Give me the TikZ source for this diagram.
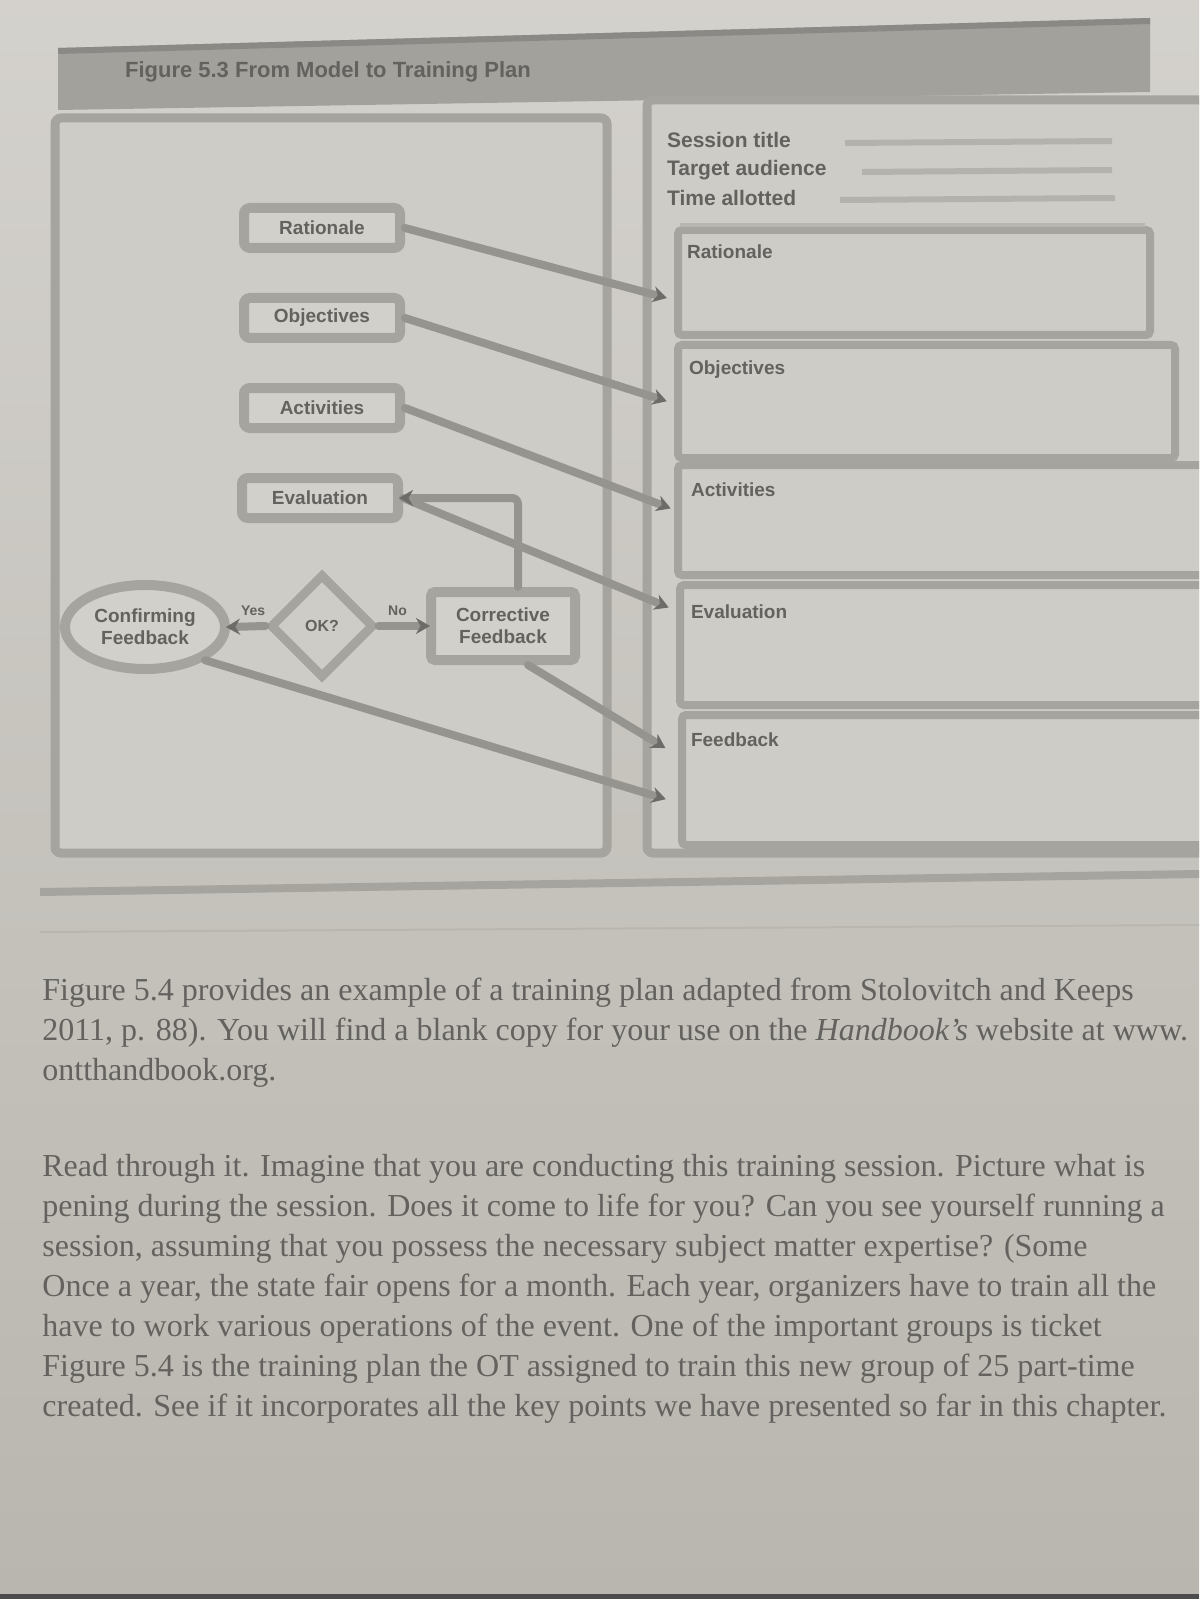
\documentclass[tikz,border=0pt]{standalone}
\usepackage{fontspec}
\setmainfont{Liberation Serif}
\setsansfont{Liberation Sans}
\usetikzlibrary{shapes.geometric,arrows.meta}
\definecolor{paper}{HTML}{C9C6C0}
\definecolor{paperdark}{HTML}{B9B6AF}
\definecolor{band}{HTML}{A3A19C}
\definecolor{frame}{HTML}{A6A49F}
\definecolor{ink}{HTML}{64625E}
\definecolor{tipcol}{HTML}{6E6C68}
\definecolor{inner}{HTML}{D2D0CB}
\tikzset{
  conn/.style={draw=frame!90!black, line width=4pt, line cap=round},
  tipped/.style={-{Stealth[length=7pt,width=8pt,color=tipcol]}, shorten >=-2pt},
  lbox/.style={draw=frame, line width=5pt, fill=inner, rounded corners=3pt,
     minimum width=78pt, minimum height=20pt, font=\sffamily\bfseries\fontsize{9.5}{11}\selectfont, text=ink},
  rbox/.style={draw=frame, line width=4pt, rounded corners=2pt},
  rlabel/.style={anchor=west, font=\sffamily\bfseries\fontsize{9.5}{11}\selectfont, text=ink},
  hlabel/.style={anchor=west, font=\sffamily\bfseries\fontsize{10.5}{12}\selectfont, text=ink},
  ylabel/.style={font=\sffamily\bfseries\fontsize{7}{8}\selectfont, text=ink},
  body/.style={anchor=base west, font=\fontsize{16}{18}\selectfont, text=ink, inner sep=0pt},
}
\begin{document}
\begin{tikzpicture}[x=0.5pt,y=-0.5pt]
\useasboundingbox (0,0) rectangle (1199,1599);
\clip (0,0) rectangle (1199,1599);
\shade[top color=paper!80!white, bottom color=paperdark] (0,0) rectangle (1199,1599);
% header band
\fill[band] (58,48) -- (1150,18) -- (1150,92) -- (58,110) -- cycle;
\fill[band!85!black] (58,48) -- (1150,18) -- (1150,24) -- (58,54) -- cycle;
\node[anchor=west, font=\sffamily\bfseries\fontsize{11}{13}\selectfont, text=ink] (title) at (118,72) {Figure 5.3 From Model to Training Plan};
% left panel
\draw[frame, line width=4.5pt, rounded corners=3pt, fill=inner!60!paper] (55,118) rectangle (607,853);
% right panel
\draw[frame, line width=4.5pt, rounded corners=3pt, fill=inner!60!paper] (647,100) rectangle (1230,853);
% header lines in right panel
\node[hlabel] (st) at (660,140) {Session title};
\node[hlabel] (ta) at (660,170) {Target audience};
\node[hlabel] (tl) at (660,198) {Time allotted};
\coordinate (st1) at (845,143); \coordinate (st2) at (1112,141);
\coordinate (ta1) at (862,172); \coordinate (ta2) at (1112,170);
\coordinate (tl1) at (840,200); \coordinate (tl2) at (1115,198);
\draw[frame!85!white, line width=3pt] (st1) -- (st2);
\draw[frame!85!white, line width=3pt] (ta1) -- (ta2);
\draw[frame!85!white, line width=3pt] (tl1) -- (tl2);
% right boxes
\draw[rbox] (678,230) rectangle (1150,335);
\draw[frame!80!white, line width=2pt] (680,225) -- (1145,225);
\draw[rbox] (678,345) rectangle (1175,458);
\draw[rbox] (678,465) rectangle (1215,575);
\draw[rbox] (680,585) rectangle (1215,705);
\draw[rbox] (682,715) rectangle (1215,845);
\node[rlabel] (rRat) at (680,252) {Rationale};
\node[rlabel] (rObj) at (682,370) {Objectives};
\node[rlabel] (rAct) at (684,490) {Activities};
\node[rlabel] (rEva) at (684,612) {Evaluation};
\node[rlabel] (rFee) at (684,740) {Feedback};
\coordinate (tRat) at (663,297);
\coordinate (tObj) at (663,400);
\coordinate (tAct) at (667,507);
\coordinate (tEva) at (665,606);
\coordinate (tFee) at (662,746);
\coordinate (tFee2) at (662,798);
% left nodes
\node[lbox] (Rat) at (322,228) {Rationale};
\node[lbox] (Obj) at (322,318) {Objectives};
\node[lbox] (Act) at (322,408) {Activities};
\node[lbox] (Eva) at (320,498) {Evaluation};
\node[ellipse, draw=frame, line width=5pt, fill=inner, minimum width=80pt, minimum height=42pt, inner sep=0pt,
  align=center, font=\sffamily\bfseries\fontsize{9.5}{11}\selectfont, text=ink] (Conf) at (145,627) {Confirming\\Feedback};
\node[diamond, draw=frame, line width=4.5pt, fill=inner!60!paper, minimum width=52pt, minimum height=52pt, inner sep=0pt,
  font=\sffamily\bfseries\fontsize{8}{9}\selectfont, text=ink] (OK) at (322,626) {OK?};
\node[lbox, minimum width=72pt, minimum height=34pt, align=center, rounded corners=2pt] (Corr) at (503,626) {Corrective\\Feedback};
% connectors
\draw[conn, tipped] (Rat.east) -- (tRat);
\draw[conn, tipped] (Obj.east) -- (tObj);
\draw[conn, tipped] (Act.east) -- (tAct);
\draw[conn, tipped] (Eva.east) -- (tEva);
\draw[conn, tipped] (Corr.south) ++(25,0) -- (tFee);
\draw[conn, tipped] (Conf.south east) -- (tFee2);
\draw[conn, tipped, rounded corners=3pt] (Corr.north) ++(15,0) |- (Eva.east);
\draw[conn, tipped] (OK.east) -- node[above, ylabel, pos=0.4] {No} (Corr.west);
\draw[conn, tipped] (OK.west) -- node[above, ylabel, pos=0.35] {Yes} (Conf.east);
% divider
\fill[frame] (40,888) -- (1199,870) -- (1199,878) -- (40,896) -- cycle;
\draw[paperdark!95!black, line width=1pt, opacity=0.5] (40,932) -- (1199,925);
% body text
\node[body] (l1) at (42,1000) {Figure 5.4 provides an example of a training plan adapted from Stolovitch and Keeps};
\node[body] (l2) at (42,1040) {2011, p. 88). You will find a blank copy for your use on the \textit{Handbook's} website at www.};
\node[body] (l3) at (42,1080) {ontthandbook.org.};
\node[body] (l4) at (42,1176) {Read through it. Imagine that you are conducting this training session. Picture what is};
\node[body] (l5) at (42,1216) {pening during the session. Does it come to life for you? Can you see yourself running a};
\node[body] (l6) at (42,1256) {session, assuming that you possess the necessary subject matter expertise? (Some};
\node[body] (l7) at (42,1296) {Once a year, the state fair opens for a month. Each year, organizers have to train all the};
\node[body] (l8) at (42,1336) {have to work various operations of the event. One of the important groups is ticket};
\node[body] (l9) at (42,1376) {Figure 5.4 is the training plan the OT assigned to train this new group of 25 part-time};
\node[body] (l10) at (42,1416) {created. See if it incorporates all the key points we have presented so far in this chapter.};
\fill[black!70] (0,1594) rectangle (1199,1599);
\end{tikzpicture}
\end{document}
